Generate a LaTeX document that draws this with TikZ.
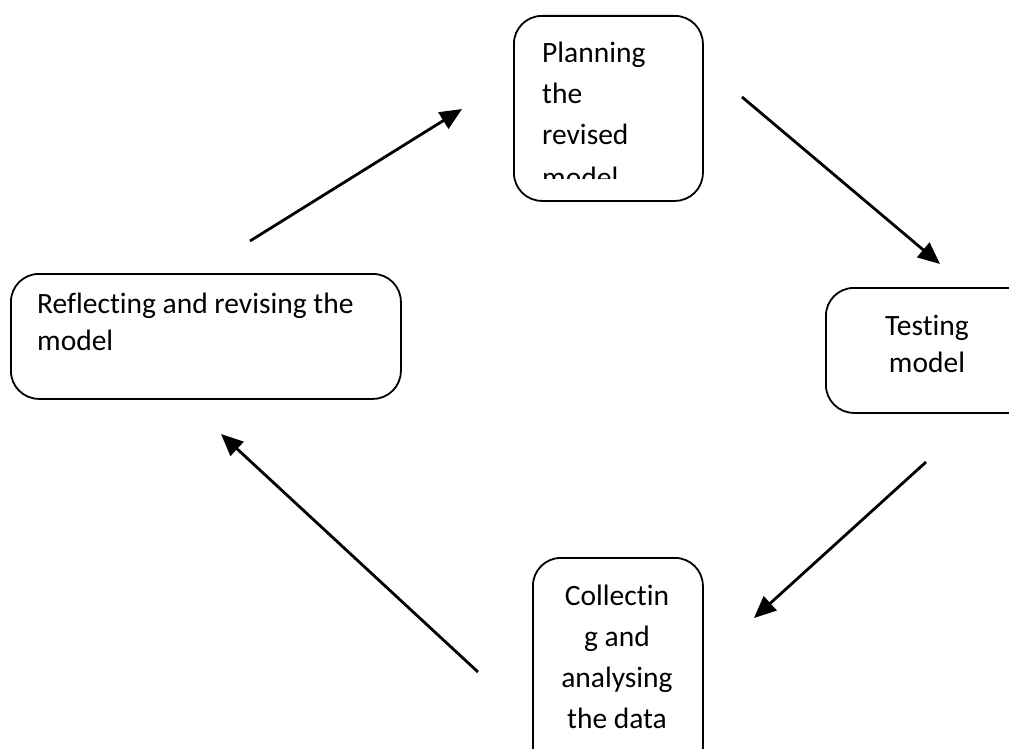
\documentclass[tikz,border=0pt]{standalone}
\usepackage{fontspec}
\setmainfont{Carlito}[Ligatures=NoCommon]
\usetikzlibrary{arrows.meta}
\begin{document}
\begin{tikzpicture}[x=1pt,y=-1pt,
  box/.style={draw,line width=1.8pt,rounded corners=28pt,inner sep=0pt,anchor=north west},
  lblw/.style={font=\fontsize{29.5}{41}\selectfont,inner sep=0pt,anchor=base west},
  lblc/.style={font=\fontsize{29.5}{41}\selectfont,inner sep=0pt,anchor=base},
  arr/.style={line width=2.8pt,-{Triangle[length=22pt,width=19pt]}}]
\useasboundingbox (0,0) rectangle (1009,749);
\clip (0,0) rectangle (1009,749);
% boxes
\node[box,minimum width=189pt,minimum height=185pt] (plan) at (513,15) {};
\node[box,minimum width=250pt,minimum height=125pt] (test) at (825,287) {};
\node[box,minimum width=170pt,minimum height=250pt] (coll) at (532,557) {};
\node[box,minimum width=390pt,minimum height=125pt] (refl) at (10,273) {};
% texts
\begin{scope}
  \clip (513,15) rectangle (702,178);
  \node[lblw] (p1) at (542,63) {Planning};
  \node[lblw] (p2) at (542,104) {the};
  \node[lblw] (p3) at (542,145) {revised};
  \node[lblw] (p4) at (542,187) {model};
\end{scope}
\node[lblc] (t1) at (927,335) {Testing};
\node[lblc] (t2) at (927,372) {model};
\node[lblc] (c1) at (617,605) {Collectin};
\node[lblc] (c2) at (617,646) {g and};
\node[lblc] (c3) at (617,687) {analysing};
\node[lblc] (c4) at (617,728) {the data};
\node[lblw] (r1) at (37,313) {Reflecting and revising the};
\node[lblw] (r2) at (37,350) {model};
% arrows
\coordinate (a1s) at (250,241); \coordinate (a1e) at (462,109);
\coordinate (a2s) at (742,97);  \coordinate (a2e) at (940,264);
\coordinate (a3s) at (926,462); \coordinate (a3e) at (754,618);
\coordinate (a4s) at (478,672); \coordinate (a4e) at (221,434);
\draw[arr] (a1s) -- (a1e);
\draw[arr] (a2s) -- (a2e);
\draw[arr] (a3s) -- (a3e);
\draw[arr] (a4s) -- (a4e);
\end{tikzpicture}
\end{document}
